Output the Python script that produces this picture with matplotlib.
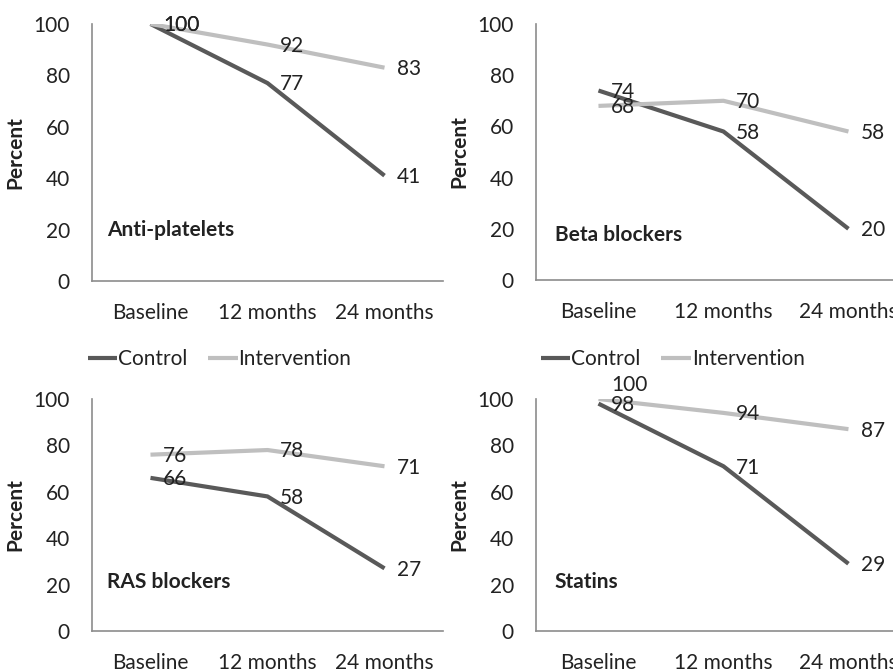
import matplotlib.pyplot as plt

plt.rcParams['font.family'] = ['Lato', 'DejaVu Sans']
plt.rcParams['font.size'] = 15

periods = ['Baseline', '12 months', '24 months']
drugs = ['Anti-platelets', 'Beta blockers', 'RAS blockers', 'Statins']
control = [
    [100, 77, 41],
    [74, 58, 20],
    [66, 58, 27],
    [98, 71, 29],
]
intervention = [
    [100, 92, 83],
    [68, 70, 58],
    [76, 78, 71],
    [100, 94, 87],
]
yticks = [0, 20, 40, 60, 80, 100]

dark = '#595959'
light = '#bfbfbf'
axis_color = '#8c8c8c'
text_color = '#222222'
fs = 15

# panel boxes in figure fractions: left, bottom, width, height
boxes = [
    (0.1030, 0.5806, 0.3931, 0.3836),
    (0.6002, 0.5821, 0.4199, 0.3821),
    (0.1030, 0.0582, 0.3931, 0.3463),
    (0.6002, 0.0582, 0.4199, 0.3463),
]
title_pos = [(0.043, 0.198), (0.05, 0.176), (0.043, 0.211), (0.05, 0.211)]


def label_points(ax, values, panel, series):
    for i, v in enumerate(values):
        dy = -1
        # lift the intervention label where it collides with control
        if panel == 3 and series == 'intervention' and i == 0:
            dy = 10
        ax.annotate(str(v), (i, v), xytext=(9, dy), textcoords='offset points',
                    ha='left', va='center', color=text_color, fontsize=fs,
                    annotation_clip=False)


fig = plt.figure(figsize=(8.93, 6.7), dpi=100)

axes = []
for k, box in enumerate(boxes):
    ax = fig.add_axes(box)
    x = range(len(periods))
    ax.plot(x, control[k], color=dark, lw=3, solid_capstyle='butt', label='Control')
    ax.plot(x, intervention[k], color=light, lw=3, solid_capstyle='butt', label='Intervention')
    label_points(ax, intervention[k], k, 'intervention')
    label_points(ax, control[k], k, 'control')

    ax.set_xlim(-0.5, 2.5)
    ax.set_ylim(0, 100)
    ax.set_xticks(list(x))
    ax.set_xticklabels(periods)
    ax.set_yticks(yticks)
    ax.tick_params(length=0, labelsize=fs, colors=text_color)
    ax.tick_params(axis='x', pad=16)
    ax.tick_params(axis='y', pad=16)
    for side in ['top', 'right']:
        ax.spines[side].set_visible(False)
    for side in ['left', 'bottom']:
        ax.spines[side].set_color(axis_color)
        ax.spines[side].set_linewidth(1.2)
    ax.set_ylabel('Percent', fontweight='bold', fontsize=fs, color=text_color, labelpad=6)
    ax.text(title_pos[k][0], title_pos[k][1], drugs[k], transform=ax.transAxes,
            fontweight='bold', fontsize=fs, color=text_color, va='center', ha='left')
    axes.append(ax)

handles, labels = axes[0].get_legend_handles_labels()
for x0 in [88 / 893, 541 / 893]:
    fig.legend(handles, labels, loc='center left', bbox_to_anchor=(x0, 1 - 359 / 670),
               ncol=2, frameon=False, borderpad=0, borderaxespad=0,
               handlelength=1.4, handletextpad=0.05, columnspacing=1.0,
               fontsize=fs, labelcolor=text_color)

fig.savefig('out.png', dpi=100)
